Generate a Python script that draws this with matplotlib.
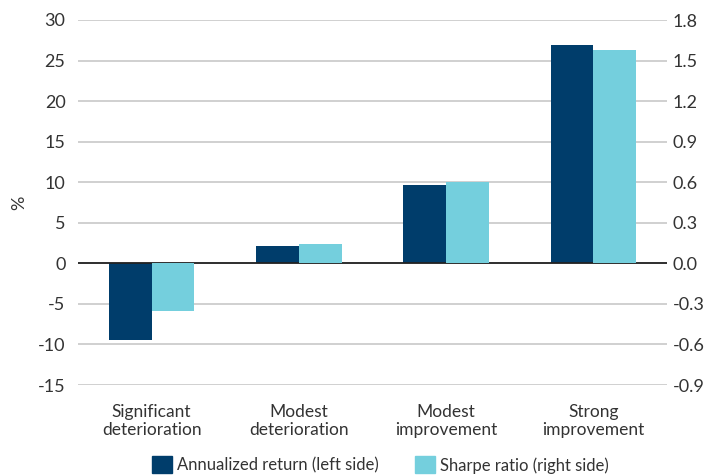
import numpy as np
import matplotlib
matplotlib.use("Agg")
import matplotlib.pyplot as plt
from matplotlib.patches import Patch

categories = ["Significant\ndeterioration", "Modest\ndeterioration",
              "Modest\nimprovement", "Strong\nimprovement"]
annual_return = [-9.4, 2.1, 9.6, 26.9]      # %, left axis
sharpe_ratio = [-0.35, 0.14, 0.60, 1.58]     # right axis
left_ticks = [-15, -10, -5, 0, 5, 10, 15, 20, 25, 30]
right_ticks = [-0.9, -0.6, -0.3, 0.0, 0.3, 0.6, 0.9, 1.2, 1.5, 1.8]

DARK = "#003d6b"
LIGHT = "#74cfdd"
TXT = "#333333"

plt.rcParams["font.family"] = ["Lato", "DejaVu Sans"]

fig = plt.figure(figsize=(7.24, 4.76), dpi=100)
ax = fig.add_axes([78 / 724, 1 - 385 / 476, 589 / 724, 365 / 476])
ax2 = ax.twinx()

x = np.arange(len(categories))
w = 0.29
ax.bar(x - w / 2, annual_return, w, color=DARK, zorder=3)
ax2.bar(x + w / 2, sharpe_ratio, w, color=LIGHT, zorder=3)

ax.set_ylim(-15, 30)
ax2.set_ylim(-0.9, 1.8)
ax.set_xlim(-0.5, 3.5)
ax.set_yticks(left_ticks)
ax.set_yticklabels([str(t) for t in left_ticks])
ax2.set_yticks(right_ticks)
ax2.set_yticklabels([f"{t:.1f}" for t in right_ticks])
ax.grid(axis="y", color="#c8c8c8", lw=1.2, zorder=0)
ax.axhline(0, color="#222222", lw=1.3, zorder=4)
ax.set_axisbelow(True)

for a in (ax, ax2):
    for s in a.spines.values():
        s.set_visible(False)
    a.tick_params(length=0, labelsize=13, colors=TXT)
ax.tick_params(axis="y", pad=9)
ax2.tick_params(axis="y", pad=4)
ax.set_xticks(x)
ax.set_xticklabels(categories, fontsize=12.5, color=TXT, linespacing=1.15)
ax.tick_params(axis="x", pad=14)
ax.set_ylabel("%", fontsize=13, color=TXT, labelpad=8)

handles = [Patch(color=DARK, label="Annualized return (left side)"),
           Patch(color=LIGHT, label="Sharpe ratio (right side)")]
fig.legend(handles=handles, loc="lower center", ncol=2, frameon=False,
           bbox_to_anchor=(0.525, 0.0), borderaxespad=0.0, borderpad=0.15,
           fontsize=12, handlelength=1.2, handleheight=1.2,
           columnspacing=2.2, handletextpad=0.3, labelcolor=TXT)

fig.savefig("out.png", dpi=100)
